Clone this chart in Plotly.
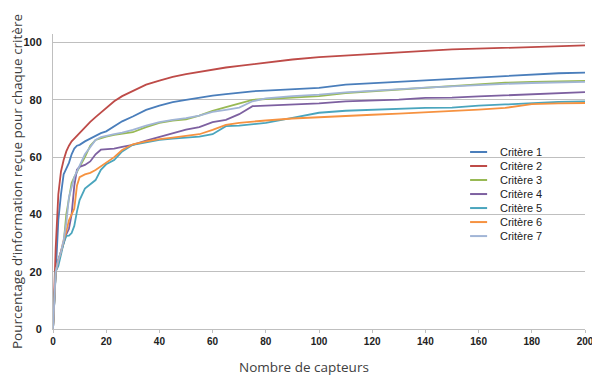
import plotly.graph_objects as go

x_vals = [0, 1, 2, 3, 4, 5, 6, 7, 8, 9, 10, 12, 14, 16, 18, 20, 23, 26, 30, 35, 40, 45, 50, 55, 60, 65,
          70, 75, 80, 90, 100, 110, 120, 130, 140, 150, 160, 170, 180, 190, 200]

critere_1 = [0, 22, 38, 47, 54, 56, 58, 61, 63, 64, 64.3, 65.5, 66.5, 67.5, 68.4, 69, 70.8, 72.5, 74.2, 76.5,
             78, 79.2, 80, 80.8, 81.5, 82, 82.5, 83, 83.2, 83.6, 84.2, 85.3, 85.8, 86.3, 86.8, 87.2, 87.6,
             88.1, 88.8, 89.3, 89.5]
critere_2 = [0, 28, 47, 55, 59, 62, 64, 65.5, 66.5, 67.5, 68.4, 70.5, 72.3, 74, 75.6, 77, 79.5, 81.3, 83.2,
             85.3, 86.7, 88, 89, 89.8, 90.6, 91.3, 91.9, 92.5, 93, 94.1, 94.9, 95.5, 96, 96.6, 97.1, 97.6,
             97.9, 98.2, 98.5, 98.8, 99]
critere_3 = [0, 20, 24, 27, 30, 40, 45, 51, 53, 55, 56.6, 60, 64, 66, 66.7, 67.2, 67.8, 68.2, 68.7, 70.5, 72,
             72.8, 73.2, 74.5, 76.2, 77.5, 78.8, 80, 80.3, 80.7, 81.3, 82.4, 83, 83.8, 84.4, 84.9, 85.4, 86,
             86.3, 86.5, 86.6]
critere_4 = [0, 20, 24, 27, 30, 33, 35, 40, 50, 55.6, 56.6, 57.3, 58.5, 61, 62.6, 62.8, 63, 63.6, 64.3, 65.8,
             67, 68.4, 69.6, 70.5, 72.2, 73, 75, 77.8, 78, 78.3, 78.8, 79.5, 79.8, 80.1, 80.7, 80.8, 81.2,
             81.6, 82.1, 82.4, 82.7]
critere_5 = [0, 20, 22, 26, 30, 32.5, 32.6, 33.5, 36, 41, 45, 49, 50.5, 52, 55.6, 57.5, 59, 62, 64.3, 65.2,
             66, 66.5, 66.8, 67.2, 68, 70.8, 71, 71.5, 72, 73.7, 75.5, 76.2, 76.6, 77, 77.2, 77.3, 78, 78.4,
             78.9, 79.3, 79.5]
critere_6 = [0, 20, 24, 27, 31, 34, 38, 40, 42, 50, 53, 54, 54.5, 55.5, 56.7, 58, 60, 62.5, 64.5, 65.5, 66.3,
             66.8, 67.3, 68, 69.5, 71.3, 72, 72.5, 72.8, 73.5, 74, 74.5, 74.8, 75.2, 75.6, 76.1, 76.6, 77.2,
             78.5, 78.8, 78.9]
critere_7 = [0, 20, 24, 27, 31, 37, 46, 50, 53, 55, 57, 61, 63.5, 66, 67, 67.5, 68, 68.6, 69.5, 71, 72.2, 73,
             73.6, 74.5, 75.8, 76.5, 77.3, 79.5, 80.5, 81.3, 81.8, 82.6, 83.2, 83.8, 84.3, 84.7, 85.2, 85.6,
             85.9, 86.1, 86.3]

series_names = ["Critère 1", "Critère 2", "Critère 3", "Critère 4", "Critère 5", "Critère 6", "Critère 7"]
series_values = [critere_1, critere_2, critere_3, critere_4, critere_5, critere_6, critere_7]
colors = ["#4A7EBB", "#BE4B48", "#98B954", "#7D60A0", "#4AA5BD", "#F69240", "#A1B5D6"]

x_ticks = [0, 20, 40, 60, 80, 100, 120, 140, 160, 180, 200]
y_ticks = [0, 20, 40, 60, 80, 100]

fig = go.Figure()
for name, vals, col in zip(series_names, series_values, colors):
    fig.add_trace(go.Scatter(x=x_vals, y=vals, mode="lines", name=name,
                             line=dict(color=col, width=1.8), showlegend=False))

# Compact legend drawn in paper coordinates (Excel-style spacing)
leg_top = 0.60
leg_step = 0.0475
for i, (name, col) in enumerate(zip(series_names, colors)):
    yy = leg_top - i * leg_step
    fig.add_shape(type="line", xref="paper", yref="paper",
                  x0=0.784, x1=0.816, y0=yy, y1=yy, line=dict(color=col, width=2))
    fig.add_annotation(xref="paper", yref="paper", x=0.836, y=yy, text=name, showarrow=False,
                       xanchor="left", yanchor="middle",
                       font=dict(size=11, family="Liberation Sans, Arial", color="#222222"))

# x-axis title (slightly left of plot centre, as in the original)
fig.add_annotation(xref="paper", yref="paper", x=0.472, y=-0.13, text="Nombre de capteurs",
                   showarrow=False, xanchor="center", yanchor="middle",
                   font=dict(size=13.5, family="Open Sans, Liberation Sans", color="#404040"))

# page body has an 8px margin, so the figure is sized to fill the 600x386 window
fig.update_layout(
    width=592, height=378,
    margin=dict(l=45, r=15, t=26, b=57),
    paper_bgcolor="white", plot_bgcolor="white",
    font=dict(family="Liberation Sans, Arial, sans-serif", color="#333333"),
    showlegend=False,
    xaxis=dict(range=[0, 200], tickvals=x_ticks, showgrid=False, automargin=False,
               showline=True, linecolor="#BFBFBF", linewidth=1,
               ticks="outside", ticklen=3, tickcolor="#BFBFBF",
               tickfont=dict(size=10, family="Liberation Sans, Arial", color="#222222", weight="bold"),
               zeroline=False),
    yaxis=dict(range=[0, 103], tickvals=y_ticks, showgrid=True, gridcolor="#BFBFBF", gridwidth=1,
               showline=True, linecolor="#BFBFBF", linewidth=1, ticks="", automargin=False,
               ticklabelstandoff=8,
               tickfont=dict(size=11, family="Liberation Sans, Arial", color="#222222", weight="bold"),
               title=dict(text="Pourcentage d’information reçue pour chaque critère", standoff=9,
                          font=dict(size=13.5, family="Open Sans, Liberation Sans", color="#404040")),
               zeroline=False),
)

fig.write_html("out.html")
